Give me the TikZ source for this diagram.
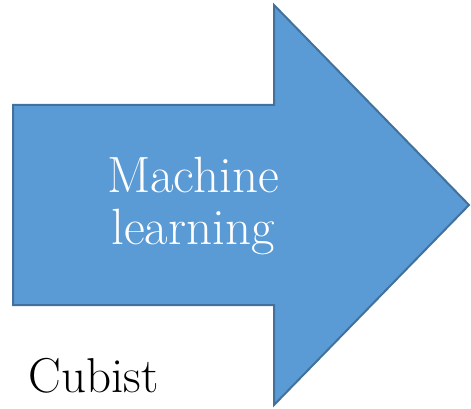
\documentclass[tikz,border=0pt]{standalone}
\usepackage{fontspec}
\begin{document}
\begin{tikzpicture}[x=1pt,y=-1pt,
  arrowshape/.style={fill=arrowfill,draw=arrowline,line width=2pt,line join=miter},
  lbl/.style={inner sep=0pt,align=center}]
\definecolor{arrowfill}{HTML}{5B9BD5}
\definecolor{arrowline}{HTML}{41719C}
\useasboundingbox (0,0) rectangle (471,409);
\draw[arrowshape] (13,105) -- (274,105) -- (274,5) -- (469,205) -- (274,405) -- (274,305) -- (13,305) -- cycle;
\node[lbl,text=white,font=\fontsize{51}{52}\selectfont] (ml) at (193,206.3) {Machine\\learning};
\node[lbl,anchor=base,font=\fontsize{49}{50}\selectfont] (cubist) at (93.5,392) {Cubist};
\end{tikzpicture}
\end{document}
